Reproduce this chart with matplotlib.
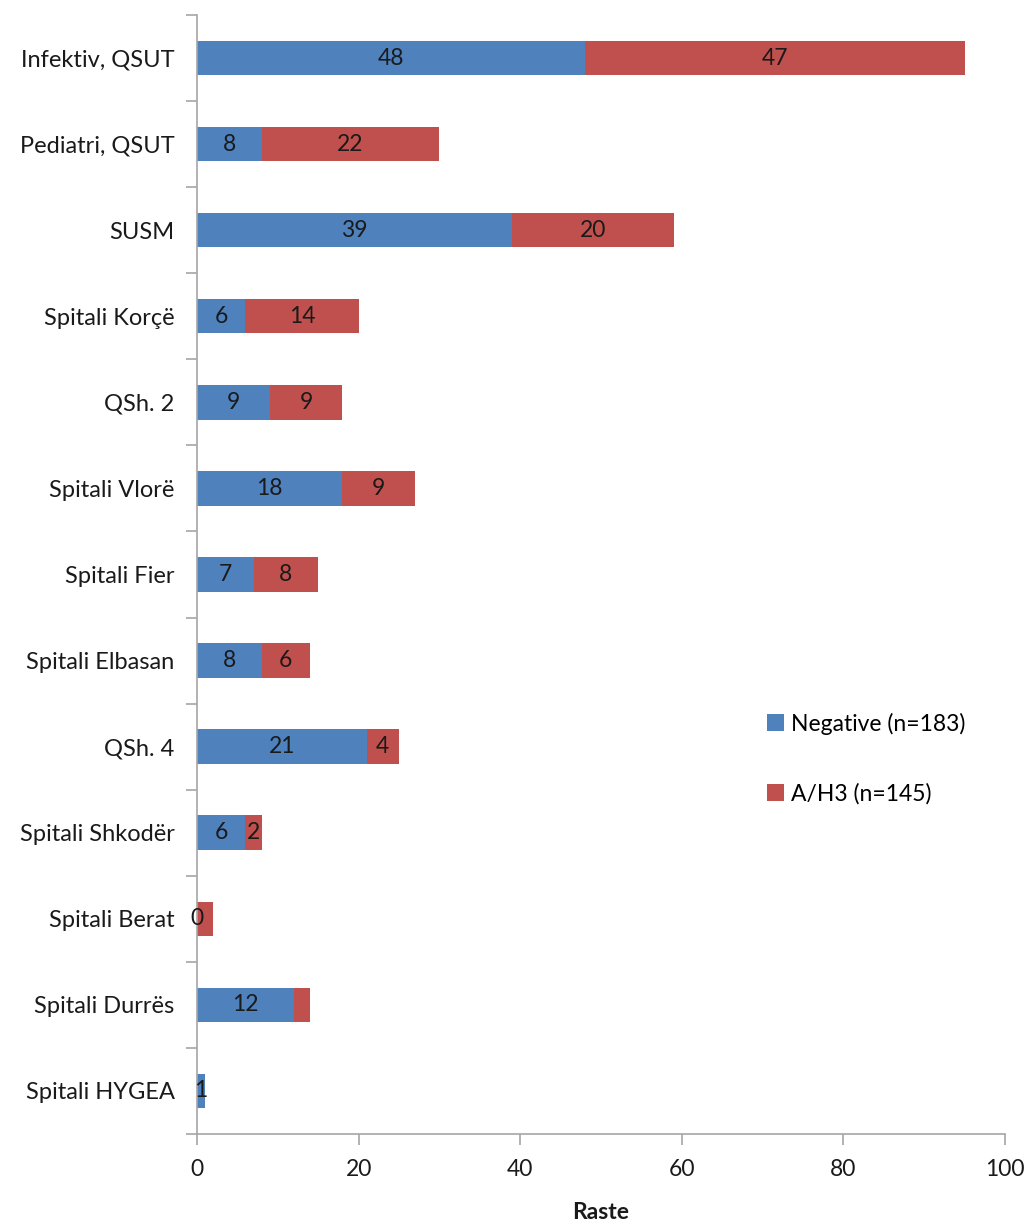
import numpy as np
import matplotlib

matplotlib.use("Agg")
import matplotlib.pyplot as plt
from matplotlib.ticker import FixedLocator

BLUE = "#4F81BD"
RED = "#C0504D"
AXIS = "#A6A6A6"
INK = "#1a1a1a"

plt.rcParams.update({"font.family": ["Lato", "DejaVu Sans"], "font.size": 15})

categories = ["Infektiv, QSUT", "Pediatri, QSUT", "SUSM", "Spitali Korçë", "QSh. 2",
              "Spitali Vlorë", "Spitali Fier", "Spitali Elbasan", "QSh. 4",
              "Spitali Shkodër", "Spitali Berat", "Spitali Durrës", "Spitali HYGEA"]
negative = [48, 8, 39, 6, 9, 18, 7, 8, 21, 6, 0, 12, 1]
ah3 = [47, 22, 20, 14, 9, 9, 8, 6, 4, 2, 2, 2, 0]
# red segments whose value label is not printed in the original
ah3_unlabelled = {"Spitali Berat", "Spitali Durrës", "Spitali HYGEA"}

fig = plt.figure(figsize=(10.28, 12.21), dpi=100)
ax = fig.add_axes([0.1916, 0.0713, 0.786, 0.9164])

y = np.arange(len(categories))
b1 = ax.barh(y, negative, height=0.4, color=BLUE, label="Negative (n=183)")
b2 = ax.barh(y, ah3, left=negative, height=0.4, color=RED, label="A/H3 (n=145)")

ax.bar_label(b1, labels=[str(v) for v in negative], label_type="center",
             fontsize=16.5, color=INK)
ax.bar_label(b2, labels=["" if c in ah3_unlabelled else str(v)
                         for c, v in zip(categories, ah3)],
             label_type="center", fontsize=16.5, color=INK)

ax.set_ylim(len(categories) - 0.5, -0.5)
ax.set_yticks(y)
ax.set_yticklabels(categories, fontsize=17, color=INK)
ax.yaxis.set_minor_locator(FixedLocator(np.arange(-0.5, len(categories), 1.0)))
ax.tick_params(axis="y", which="major", length=0, pad=16)
ax.tick_params(axis="y", which="minor", length=8, color=AXIS, width=1.2)

ax.set_xlim(0, 100)
ax.set_xticks(np.arange(0, 101, 20))
ax.tick_params(axis="x", length=8, color=AXIS, width=1.2, labelsize=16.5,
               labelcolor=INK, pad=10)
ax.set_xlabel("Raste", fontsize=16.5, fontweight="bold", color=INK, labelpad=16)

for s in ("top", "right"):
    ax.spines[s].set_visible(False)
for s in ("left", "bottom"):
    ax.spines[s].set_color(AXIS)
    ax.spines[s].set_linewidth(1.2)

ax.legend(loc="upper left", bbox_to_anchor=(0.68, 0.395), frameon=False,
          handlelength=0.75, handleheight=0.75, handletextpad=0.3,
          labelspacing=2.1, fontsize=16.5)

fig.savefig("out.png", dpi=100, facecolor="white")
